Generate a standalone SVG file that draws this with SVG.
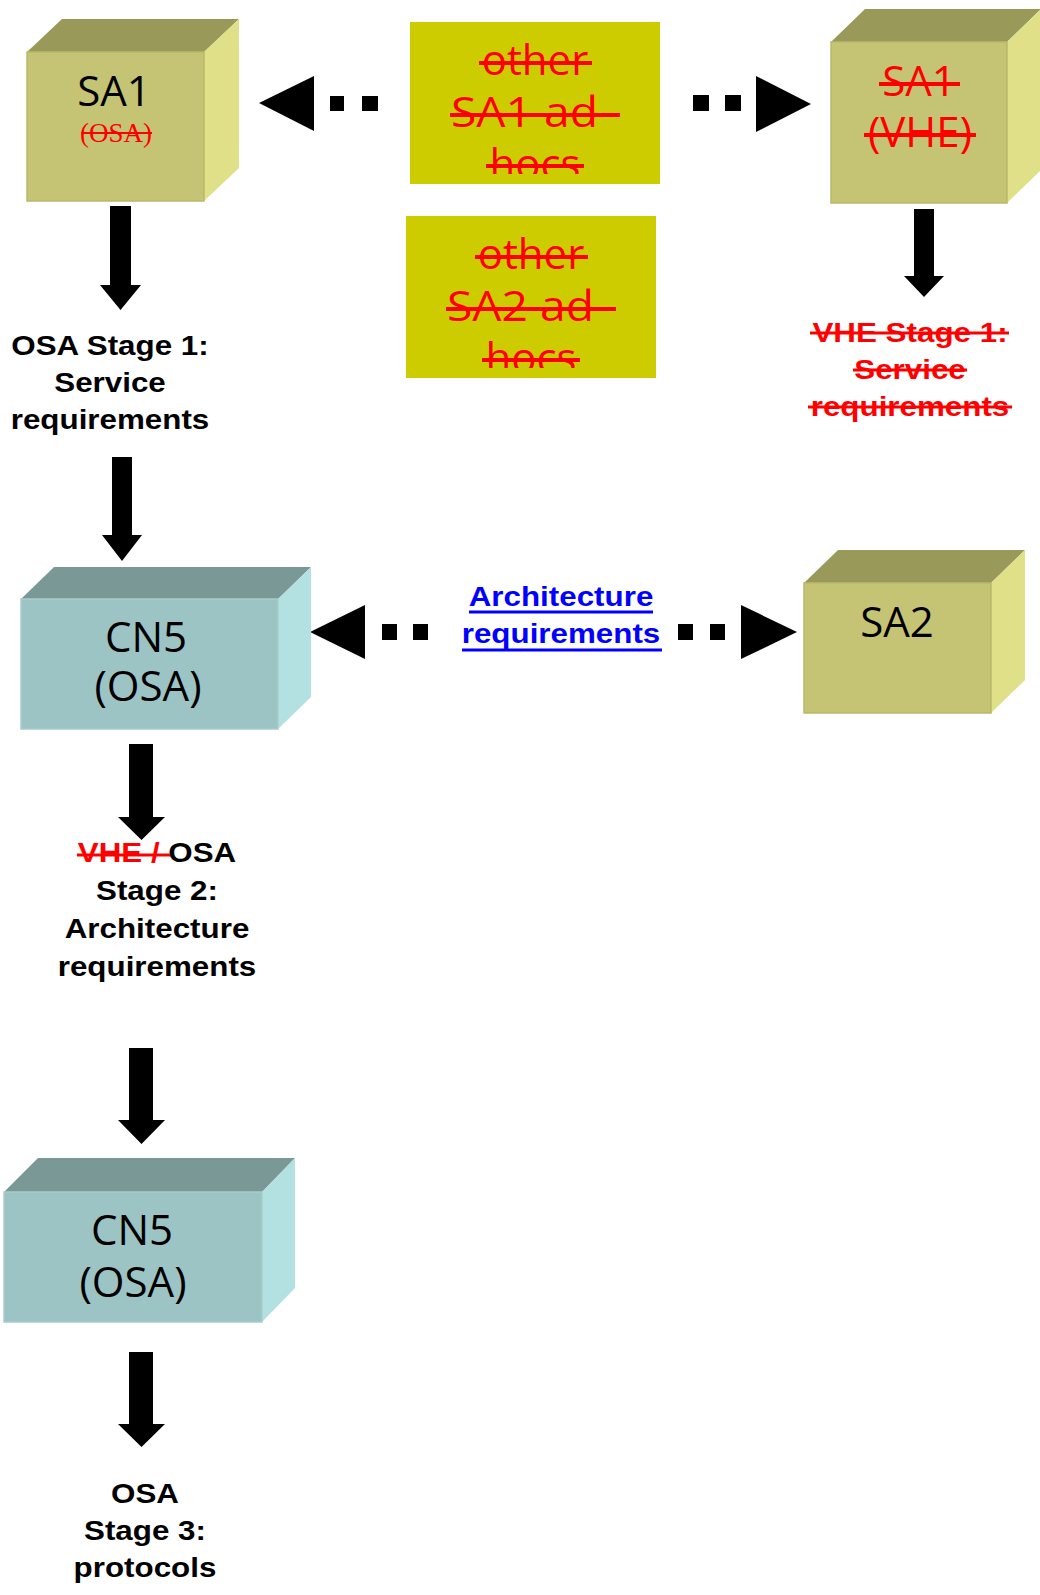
<svg xmlns="http://www.w3.org/2000/svg" width="1040" height="1595" viewBox="0 0 1040 1595">
<defs>
<style>
.bg{fill:#ffffff}
.yf{fill:#c4c474;stroke:#b9b96a;stroke-width:1.5}
.yt{fill:#99995a}
.yr{fill:#e0e088}
.tf{fill:#9dc4c4;stroke:#a9cccc;stroke-width:1.5}
.tt{fill:#7a9896}
.tr{fill:#b3e0e0}
.adhoc{fill:#cccc00}
.box{font-family:"Open Sans","DejaVu Sans",sans-serif;font-size:42px;text-anchor:middle}
.red{fill:#ff0000}
.blk{fill:#000000}
.lbl{font-family:"Liberation Sans",Arial,sans-serif;font-weight:bold;font-size:28px;text-anchor:middle}
.strike{stroke:#ff0000;stroke-width:4}
.strike3{stroke:#ff0000;stroke-width:3}
.arr{fill:#000000}
</style>
<clipPath id="clipA"><rect x="410" y="22" width="250" height="152"/></clipPath>
<clipPath id="clipB"><rect x="406" y="216" width="250" height="152"/></clipPath>
</defs>
<rect class="bg" x="0" y="0" width="1040" height="1595"/>

<g id="connectors">
  <polygon class="arr" points="259,103 314,76 314,131"/>
  <rect class="arr" x="330" y="96" width="14" height="15"/>
  <rect class="arr" x="362" y="96" width="16" height="15"/>
  <rect class="arr" x="693" y="95" width="16" height="16"/>
  <rect class="arr" x="725" y="95" width="16" height="16"/>
  <polygon class="arr" points="811,104 756,76 756,132"/>
  <polygon class="arr" points="310,632 365,605 365,659"/>
  <rect class="arr" x="382" y="624" width="15" height="16"/>
  <rect class="arr" x="413" y="624" width="15" height="16"/>
  <rect class="arr" x="678" y="624" width="15" height="16"/>
  <rect class="arr" x="710" y="624" width="15" height="16"/>
  <polygon class="arr" points="797,632 741,605 741,659"/>
  <polygon class="arr" points="110,206 131,206 131,285 141,285 120.5,310 100,285 110,285"/>
  <polygon class="arr" points="112,457 132,457 132,535 142,535 122,561 102,535 112,535"/>
  <polygon class="arr" points="129,744 153,744 153,817 165,817 141.5,840 118,817 129,817"/>
  <polygon class="arr" points="129,1048 153,1048 153,1120 165,1120 141.5,1144 118,1120 129,1120"/>
  <polygon class="arr" points="129,1352 153,1352 153,1424 165,1424 141.5,1447 118,1424 129,1424"/>
  <polygon class="arr" points="914,209 934,209 934,276 944,276 924,297 904,276 914,276"/>
</g>

<g id="sa1">
  <polygon class="yt" points="27,52 62,19 239,19 204,52"/>
  <polygon class="yr" points="204,52 239,19 239,168 204,201"/>
  <rect class="yf" x="27" y="52" width="177" height="149"/>
  <text class="box blk" x="114" y="106">SA1</text>
  <text x="116" y="142" font-family="'Liberation Serif','Times New Roman',serif" font-size="27" text-anchor="middle" fill="#ff0000">(OSA)</text>
  <line x1="81" y1="133" x2="152" y2="133" stroke="#ff0000" stroke-width="2"/>
</g>

<g id="sa1-adhocs">
  <rect class="adhoc" x="410" y="22" width="250" height="162"/>
  <g clip-path="url(#clipA)">
    <text class="box red" x="535" y="75">other</text>
    <text class="box red" x="451" y="127" style="text-anchor:start" textLength="162" lengthAdjust="spacingAndGlyphs">SA1 ad-</text>
    <text class="box red" x="535" y="179">hocs</text>
    <line class="strike" x1="479" y1="63" x2="592" y2="63"/>
    <line class="strike" x1="450" y1="115" x2="620" y2="115"/>
    <line class="strike" x1="486" y1="166" x2="584" y2="166"/>
  </g>
</g>

<g id="sa1-vhe">
  <polygon class="yt" points="831,42 865,9 1041,9 1007,42"/>
  <polygon class="yr" points="1007,42 1041,9 1041,170 1007,203"/>
  <rect class="yf" x="831" y="42" width="176" height="161"/>
  <text class="box red" x="919" y="96">SA1</text>
  <text class="box red" x="920" y="147">(VHE)</text>
  <line class="strike" x1="879" y1="84" x2="960" y2="84"/>
  <line class="strike" x1="864" y1="135" x2="976" y2="135"/>
</g>

<g id="sa2-adhocs">
  <rect class="adhoc" x="406" y="216" width="250" height="162"/>
  <g clip-path="url(#clipB)">
    <text class="box red" x="531" y="269">other</text>
    <text class="box red" x="447" y="321" style="text-anchor:start" textLength="162" lengthAdjust="spacingAndGlyphs">SA2 ad-</text>
    <text class="box red" x="531" y="373">hocs</text>
    <line class="strike" x1="475" y1="257" x2="588" y2="257"/>
    <line class="strike" x1="446" y1="309" x2="616" y2="309"/>
    <line class="strike" x1="482" y1="360" x2="580" y2="360"/>
  </g>
</g>

<g id="osa-stage1">
  <g transform="translate(110,0) scale(1.12,1)">
    <text class="lbl blk" x="0" y="355">OSA Stage 1:</text>
    <text class="lbl blk" x="0" y="392">Service</text>
    <text class="lbl blk" x="0" y="429">requirements</text>
  </g>
</g>

<g id="vhe-stage1">
  <g transform="translate(910,0) scale(1.12,1)">
    <text class="lbl red" x="0" y="342">VHE Stage 1:</text>
    <text class="lbl red" x="0" y="379">Service</text>
    <text class="lbl red" x="0" y="416">requirements</text>
  </g>
  <line class="strike3" x1="810" y1="333" x2="1009" y2="333"/>
  <line class="strike3" x1="853" y1="370" x2="967" y2="370"/>
  <line class="strike3" x1="808" y1="407" x2="1012" y2="407"/>
</g>

<g id="cn5-a">
  <polygon class="tt" points="21,599 54,567 311,567 278,599"/>
  <polygon class="tr" points="278,599 311,567 311,697 278,729"/>
  <rect class="tf" x="21" y="599" width="257" height="130"/>
  <text class="box blk" x="146" y="652" font-size="43">CN5</text>
  <text class="box blk" x="148" y="701" font-size="43">(OSA)</text>
</g>

<g id="arch-req">
  <g transform="translate(561,0) scale(1.12,1)">
    <text class="lbl" x="0" y="606" fill="#0000ff">Architecture</text>
    <text class="lbl" x="0" y="643" fill="#0000ff">requirements</text>
  </g>
  <line x1="469" y1="612" x2="653" y2="612" stroke="#0000ff" stroke-width="3"/>
  <line x1="462" y1="650" x2="662" y2="650" stroke="#0000ff" stroke-width="3"/>
</g>

<g id="sa2">
  <polygon class="yt" points="804,583 838,550 1025,550 991,583"/>
  <polygon class="yr" points="991,583 1025,550 1025,680 991,713"/>
  <rect class="yf" x="804" y="583" width="187" height="130"/>
  <text class="box blk" x="897" y="637">SA2</text>
</g>

<g id="osa-stage2">
  <g transform="translate(157,0) scale(1.12,1)">
    <text class="lbl" x="0" y="862"><tspan fill="#ff0000">VHE / </tspan><tspan fill="#000000">OSA</tspan></text>
    <text class="lbl blk" x="0" y="900">Stage 2:</text>
    <text class="lbl blk" x="0" y="938">Architecture</text>
    <text class="lbl blk" x="0" y="976">requirements</text>
  </g>
  <line class="strike3" x1="77" y1="855" x2="170" y2="855"/>
</g>

<g id="cn5-b">
  <polygon class="tt" points="4,1192 38,1158 295,1158 262,1192"/>
  <polygon class="tr" points="262,1192 295,1158 295,1288 262,1322"/>
  <rect class="tf" x="4" y="1192" width="258" height="130"/>
  <text class="box blk" x="132" y="1245" font-size="43">CN5</text>
  <text class="box blk" x="133" y="1297" font-size="43">(OSA)</text>
</g>

<g id="osa-stage3">
  <g transform="translate(145,0) scale(1.12,1)">
    <text class="lbl blk" x="0" y="1503">OSA</text>
    <text class="lbl blk" x="0" y="1540">Stage 3:</text>
    <text class="lbl blk" x="0" y="1577">protocols</text>
  </g>
</g>
</svg>
